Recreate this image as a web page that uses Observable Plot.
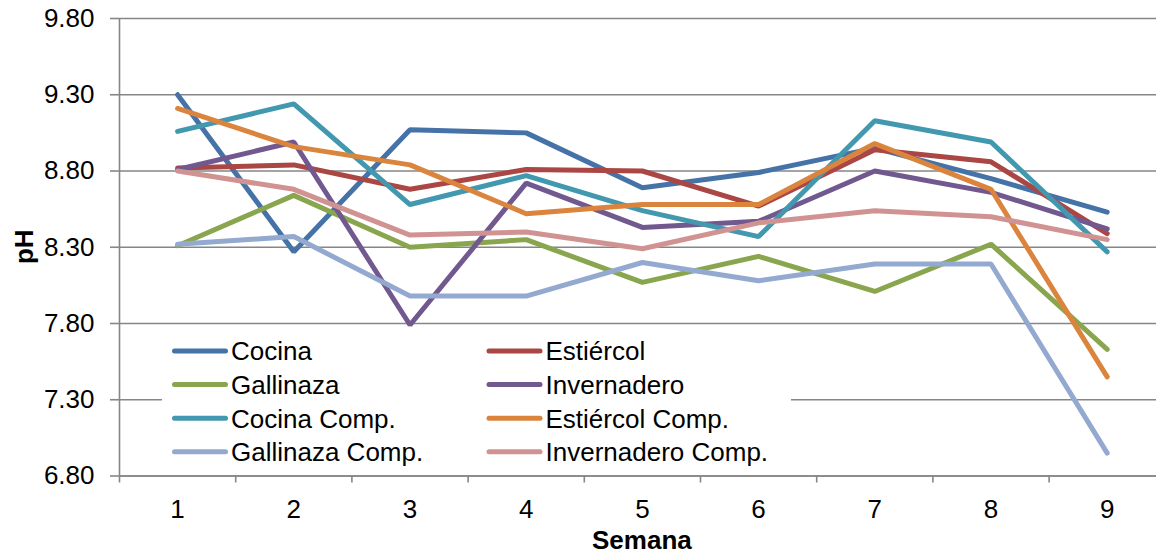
<!DOCTYPE html>
<html>
<head>
<meta charset="utf-8">
<script src="https://cdn.jsdelivr.net/npm/d3@7"></script>
<script src="https://cdn.jsdelivr.net/npm/@observablehq/plot@0.6"></script>
<style>
  html, body { margin: 0; padding: 0; background: #fff; }
  #chart svg { display: block; }
</style>
</head>
<body>
<div id="chart"></div>
<script>
// ---- Data ----
const weeks = [1, 2, 3, 4, 5, 6, 7, 8, 9];
const seriesNames = ["Cocina", "Estiércol", "Gallinaza", "Invernadero",
  "Cocina Comp.", "Estiércol Comp.", "Gallinaza Comp.", "Invernadero Comp."];
const seriesColors = ["#4572A7", "#AA4643", "#89A54E", "#71588F",
  "#4198AF", "#DB843D", "#93A9CF", "#D19392"];

const cocina          = [9.30, 8.27, 9.07, 9.05, 8.69, 8.79, 8.95, 8.75, 8.53];
const estiercol       = [8.82, 8.84, 8.68, 8.81, 8.80, 8.57, 8.94, 8.86, 8.39];
const gallinaza       = [8.31, 8.64, 8.30, 8.35, 8.07, 8.24, 8.01, 8.32, 7.63];
const invernadero     = [8.81, 8.99, 7.79, 8.72, 8.43, 8.47, 8.80, 8.66, 8.42];
const cocinaComp      = [9.06, 9.24, 8.58, 8.77, 8.54, 8.37, 9.13, 8.99, 8.27];
const estiercolComp   = [9.21, 8.96, 8.84, 8.52, 8.58, 8.58, 8.98, 8.68, 7.45];
const gallinazaComp   = [8.32, 8.37, 7.98, 7.98, 8.20, 8.08, 8.19, 8.19, 6.95];
const invernaderoComp = [8.80, 8.68, 8.38, 8.40, 8.29, 8.46, 8.54, 8.50, 8.35];

const yTicks = [6.8, 7.3, 7.8, 8.3, 8.8, 9.3, 9.8];
const xLabel = "Semana";
const yLabel = "pH";

// ---- Build table ----
const allValues = [cocina, estiercol, gallinaza, invernadero,
  cocinaComp, estiercolComp, gallinazaComp, invernaderoComp];
const rows = [];
seriesNames.forEach((name, i) => {
  weeks.forEach((w, j) => rows.push({series: name, week: w, ph: allValues[i][j]}));
});

const W = 1156, H = 554;
const plotL = 119, plotT = 18, plotB = 475.5, plotR = 1164.8;
const gridColor = "#868686";
const FONT = "'Liberation Sans', Arial, Helvetica, sans-serif";
const FS = 26;
const boundaries = d3.range(0.5, weeks.length + 1, 1);

const chart = Plot.plot({
  width: W,
  height: H,
  marginLeft: plotL,
  marginTop: plotT,
  marginBottom: H - plotB,
  marginRight: 0,
  style: {fontFamily: FONT, fontSize: FS + "px", color: "#000", background: "#fff", overflow: "visible"},
  x: {type: "linear", domain: [0.5, weeks.length + 0.5], range: [plotL, plotR]},
  y: {domain: [6.8, 9.8], range: [plotB, plotT]},
  color: {domain: seriesNames, range: seriesColors},
  marks: [
    Plot.gridY(yTicks, {stroke: gridColor, strokeOpacity: 1, strokeWidth: 1.6}),
    Plot.ruleX([0.5], {y1: 6.8, y2: 9.8, stroke: gridColor, strokeWidth: 1.6}),
    Plot.ruleY([6.8], {stroke: gridColor, strokeWidth: 1.6}),
    Plot.axisY(yTicks, {
      tickSize: 9, tickPadding: 16, stroke: gridColor, strokeWidth: 1.6,
      tickFormat: d3.format(".2f"), label: null, fontSize: FS
    }),
    Plot.axisX(boundaries, {
      tickSize: 7, stroke: gridColor, strokeWidth: 1.6, tickFormat: () => "", label: null
    }),
    Plot.axisX(weeks, {
      tickSize: 0, tickPadding: 24, tickFormat: d => String(d), label: null, fontSize: FS
    }),
    Plot.line(rows, {
      x: "week", y: "ph", z: "series", stroke: "series",
      strokeWidth: 5, strokeLinecap: "round", strokeLinejoin: "miter"
    })
  ]
});

document.getElementById("chart").appendChild(chart);

// ---- Axis titles and legend ----
const svg = d3.select(chart);

svg.append("text")
  .attr("x", (plotL + plotR) / 2)
  .attr("y", 549)
  .attr("text-anchor", "middle")
  .attr("font-family", FONT)
  .attr("font-size", FS)
  .attr("font-weight", "bold")
  .attr("fill", "#000")
  .text(xLabel);

svg.append("text")
  .attr("transform", `translate(33,${(plotT + plotB) / 2}) rotate(-90)`)
  .attr("text-anchor", "middle")
  .attr("font-family", FONT)
  .attr("font-size", FS)
  .attr("font-weight", "bold")
  .attr("fill", "#000")
  .text(yLabel);

const legend = svg.append("g");
legend.append("rect")
  .attr("x", 162).attr("y", 331)
  .attr("width", 629).attr("height", 138)
  .attr("fill", "#fff");

const colX = [174.5, 489];
const rowY0 = 351, rowStep = 33.6;
seriesNames.forEach((name, i) => {
  const col = i % 2, row = Math.floor(i / 2);
  const cx = colX[col], cy = rowY0 + row * rowStep;
  legend.append("line")
    .attr("x1", cx).attr("x2", cx + 51)
    .attr("y1", cy).attr("y2", cy)
    .attr("stroke", seriesColors[i])
    .attr("stroke-width", 5)
    .attr("stroke-linecap", "round");
  legend.append("text")
    .attr("x", cx + 56.5)
    .attr("y", cy)
    .attr("dy", "0.36em")
    .attr("text-anchor", "start")
    .attr("font-family", FONT)
    .attr("font-size", FS)
    .attr("fill", "#000")
    .text(name);
});
</script>
</body>
</html>
